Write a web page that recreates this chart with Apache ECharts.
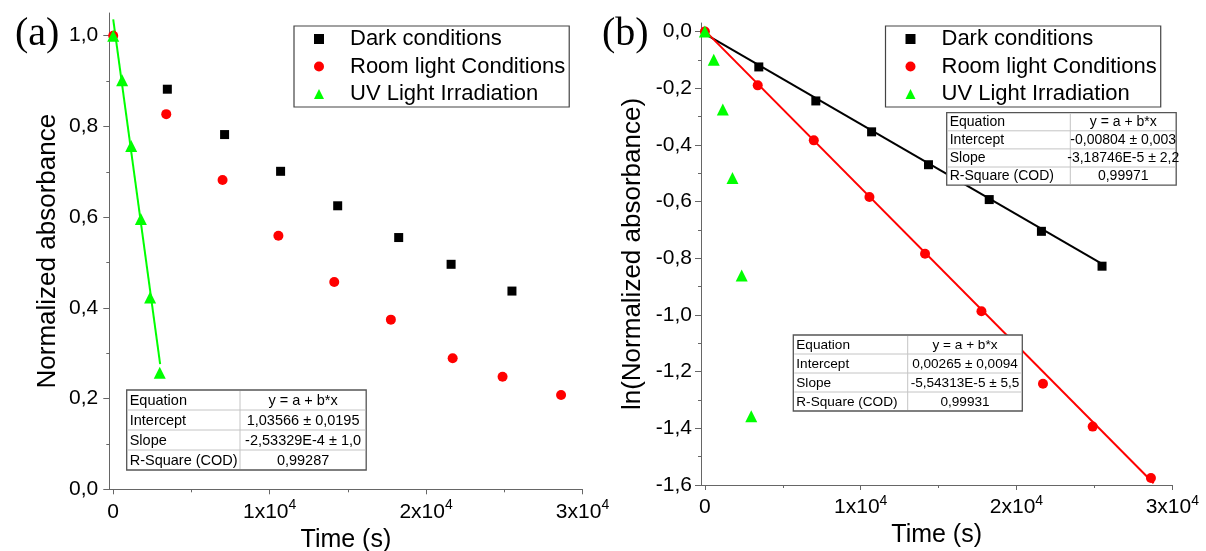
<!DOCTYPE html>
<html>
<head>
<meta charset="utf-8">
<script src="https://cdn.jsdelivr.net/npm/echarts@6/dist/echarts.min.js"></script>
<style>
html,body{margin:0;padding:0;background:#fff;}
#chart{width:1206px;height:551px;}
</style>
</head>
<body>
<div id="chart"></div>
<script>
// ---------- data ----------
const seriesNames = ['Dark conditions', 'Room light Conditions', 'UV Light Irradiation'];

// panel (a): normalized absorbance vs time (s)
const darkT = [3460, 7120, 10700, 14350, 18250, 21600, 25490];
const darkNorm = [0.882, 0.782, 0.701, 0.625, 0.555, 0.496, 0.437];
const roomT = [0, 3390, 6990, 10560, 14130, 17750, 21700, 24890, 28630];
const roomNorm = [1.0, 0.827, 0.682, 0.559, 0.457, 0.374, 0.289, 0.248, 0.208];
const uvT = [0, 570, 1150, 1770, 2360, 2975];
const uvNorm = [1.0, 0.902, 0.757, 0.596, 0.423, 0.257];
const fitUvT = [0, 3000];
const fitUvY = [1.036, 0.276];

// panel (b): ln(normalized absorbance) vs time (s)
const darkLn = [-0.125, -0.245, -0.354, -0.470, -0.593, -0.705, -0.828];
const roomLn = [0.0, -0.190, -0.384, -0.584, -0.784, -0.987, -1.243, -1.394, -1.575];
const uvLn = [0.0, -0.100, -0.275, -0.517, -0.861, -1.357];
const fitDarkT = [0, 25490];
const fitDarkY = [-0.008, -0.820];
const fitRoomT = [0, 28800];
const fitRoomY = [0.003, -1.594];

// tick values
const xMajorTicks = [0, 10000, 20000, 30000];
const xMinorTicks = [5000, 15000, 25000];
const yMajorA = [0, 0.2, 0.4, 0.6, 0.8, 1.0];
const yMinorA = [0.1, 0.3, 0.5, 0.7, 0.9];
const yMajorB = [0, -0.2, -0.4, -0.6, -0.8, -1.0, -1.2, -1.4, -1.6];
const yMinorB = [-0.1, -0.3, -0.5, -0.7, -0.9, -1.1, -1.3, -1.5];

// fit tables
const tableA = [['Equation', 'y = a + b*x'], ['Intercept', '1,03566 ± 0,0195'], ['Slope', '-2,53329E-4 ± 1,0'], ['R-Square (COD)', '0,99287']];
const tableDark = [['Equation', 'y = a + b*x'], ['Intercept', '-0,00804 ± 0,003'], ['Slope', '-3,18746E-5 ± 2,2'], ['R-Square (COD)', '0,99971']];
const tableRoom = [['Equation', 'y = a + b*x'], ['Intercept', '0,00265 ± 0,0094'], ['Slope', '-5,54313E-5 ± 5,5'], ['R-Square (COD)', '0,99931']];

// ---------- helpers ----------
const FONT = '"Liberation Sans", Arial, sans-serif';
const zip = (a, b) => a.map((v, i) => [v, b[i]]);
const AXIS_COLOR = '#666';

function xAxisMajor(gridIndex) {
  return {
    type: 'value', gridIndex, min: -250, max: 30000, position: 'bottom',
    name: 'Time (s)', nameLocation: 'middle', nameGap: 36,
    nameTextStyle: { fontSize: 25, fontFamily: FONT, color: '#000' },
    axisLine: { show: true, onZero: false, lineStyle: { color: AXIS_COLOR, width: 1 } },
    axisTick: { show: true, inside: false, length: 5, customValues: xMajorTicks, lineStyle: { color: AXIS_COLOR } },
    splitLine: { show: false },
    axisLabel: {
      customValues: xMajorTicks, margin: 9,
      formatter: v => v === 0 ? '{b|0}' : '{b|' + Math.round(v / 10000) + 'x10}{s|4}',
      rich: {
        b: { fontSize: 21, fontFamily: FONT, color: '#000', lineHeight: 24, verticalAlign: 'bottom' },
        s: { fontSize: 14, fontFamily: FONT, color: '#000', lineHeight: 14, verticalAlign: 'top' }
      }
    }
  };
}
function xAxisMinor(gridIndex) {
  return {
    type: 'value', gridIndex, min: -250, max: 30000, position: 'bottom', offset: 0,
    axisLine: { show: false, onZero: false },
    axisTick: { show: true, length: 3, customValues: xMinorTicks, lineStyle: { color: AXIS_COLOR } },
    axisLabel: { show: false }, splitLine: { show: false }
  };
}
function fmtY(v) { return (Math.abs(v) < 1e-9 ? 0 : v).toFixed(1).replace('.', ','); }
function yAxisMajor(gridIndex, min, max, ticks, name, gap, margin) {
  return {
    type: 'value', gridIndex, min, max, position: 'left',
    name, nameLocation: 'middle', nameGap: gap,
    nameTextStyle: { fontSize: 26, fontFamily: FONT, color: '#000' },
    axisLine: { show: true, onZero: false, lineStyle: { color: AXIS_COLOR, width: 1 } },
    axisTick: { show: true, length: 6, customValues: ticks, lineStyle: { color: AXIS_COLOR } },
    splitLine: { show: false },
    axisLabel: { customValues: ticks, margin, formatter: fmtY, fontSize: 21, fontFamily: FONT, color: '#000' }
  };
}
function yAxisMinor(gridIndex, min, max, ticks) {
  return {
    type: 'value', gridIndex, min, max, position: 'left', offset: 0,
    axisLine: { show: false, onZero: false },
    axisTick: { show: true, length: 3, customValues: ticks, lineStyle: { color: AXIS_COLOR } },
    axisLabel: { show: false }, splitLine: { show: false }
  };
}
function scatter(name, data, xi, yi, symbol, size, color) {
  return { type: 'scatter', name, data, xAxisIndex: xi, yAxisIndex: yi, symbol, symbolSize: size,
    itemStyle: { color, opacity: 1 }, z: 5, silent: true, animation: false };
}
function fitLine(data, xi, yi, color) {
  return { type: 'line', data, xAxisIndex: xi, yAxisIndex: yi, showSymbol: false, symbol: 'none',
    lineStyle: { color, width: 2 }, z: 3, silent: true, animation: false };
}
function legend(left) {
  return {
    left, top: 26, orient: 'vertical', selectedMode: false,
    itemWidth: 10, itemHeight: 10, itemGap: 3.5, padding: [1, 4, 1, 20],
    borderColor: '#444', borderWidth: 1.2, backgroundColor: '#fff',
    textStyle: { fontSize: 22, lineHeight: 24, fontFamily: FONT, color: '#000', padding: [0, 0, 0, 21] },
    data: [
      { name: seriesNames[0], icon: 'rect', itemStyle: { color: '#000' } },
      { name: seriesNames[1], icon: 'circle', itemStyle: { color: '#ff0000' } },
      { name: seriesNames[2], icon: 'triangle', itemStyle: { color: '#00ff00' } }
    ]
  };
}
function table(x, y, w, c1, rh, rows, fs) {
  const h = rh * rows.length;
  const ch = [];
  ch.push({ type: 'rect', z: 100, shape: { x: 0, y: 0, width: w, height: h }, style: { fill: '#fff', stroke: '#555', lineWidth: 1.3 } });
  for (let i = 1; i < rows.length; i++) {
    ch.push({ type: 'line', z: 101, shape: { x1: 1, y1: i * rh, x2: w - 1, y2: i * rh }, style: { stroke: '#c4c4c4', lineWidth: 1 } });
  }
  ch.push({ type: 'line', z: 101, shape: { x1: c1, y1: 1, x2: c1, y2: h - 1 }, style: { stroke: '#c4c4c4', lineWidth: 1 } });
  rows.forEach((r, i) => {
    ch.push({ type: 'text', z: 102, x: 3, y: i * rh + rh / 2 + 0.5,
      style: { text: r[0], fontSize: fs, fontFamily: FONT, fill: '#000', align: 'left', verticalAlign: 'middle', textAlign: 'left', textVerticalAlign: 'middle' } });
    ch.push({ type: 'text', z: 102, x: c1 + (w - c1) / 2, y: i * rh + rh / 2 + 0.5,
      style: { text: r[1], fontSize: fs, fontFamily: FONT, fill: '#000', align: 'center', verticalAlign: 'middle', textAlign: 'center', textVerticalAlign: 'middle' } });
  });
  return { type: 'group', x, y, z: 100, children: ch };
}

const chart = echarts.init(document.getElementById('chart'), null, { renderer: 'canvas' });
chart.setOption({
  backgroundColor: '#fff',
  animation: false,
  grid: [
    { left: 109.3, top: 13, width: 473.2, height: 476.3, containLabel: false, outerBoundsMode: 'none' },
    { left: 701, top: 23, width: 471.3, height: 462, containLabel: false, outerBoundsMode: 'none' }
  ],
  xAxis: [xAxisMajor(0), xAxisMinor(0), xAxisMajor(1), xAxisMinor(1)],
  yAxis: [
    yAxisMajor(0, 0, 1.05, yMajorA, 'Normalized absorbance', 48, 11),
    yAxisMinor(0, 0, 1.05, yMinorA),
    yAxisMajor(1, -1.6, 0.03, yMajorB, 'ln(Normalized absorbance)', 55, 9),
    yAxisMinor(1, -1.6, 0.03, yMinorB)
  ],
  legend: [legend(294), legend(885.5)],
  series: [
    fitLine(zip(fitUvT, fitUvY), 0, 0, '#00ff00'),
    scatter(seriesNames[0], zip(darkT, darkNorm), 0, 0, 'rect', 9, '#000000'),
    scatter(seriesNames[1], zip(roomT, roomNorm), 0, 0, 'circle', 10, '#ff0000'),
    scatter(seriesNames[2], zip(uvT, uvNorm), 0, 0, 'triangle', 12, '#00ff00'),

    fitLine(zip(fitDarkT, fitDarkY), 2, 2, '#000000'),
    fitLine(zip(fitRoomT, fitRoomY), 2, 2, '#ff0000'),
    scatter(seriesNames[0], zip(darkT, darkLn), 2, 2, 'rect', 9, '#000000'),
    scatter(seriesNames[1], zip(roomT, roomLn), 2, 2, 'circle', 10, '#ff0000'),
    scatter(seriesNames[2], zip(uvT, uvLn), 2, 2, 'triangle', 12, '#00ff00')
  ],
  graphic: [
    { type: 'text', x: 15, y: 34, z: 100, style: { text: '(a)', fontSize: 40, fontFamily: '"Liberation Serif", "Times New Roman", serif', fill: '#000', verticalAlign: 'middle', textVerticalAlign: 'middle' } },
    { type: 'text', x: 602, y: 34, z: 100, style: { text: '(b)', fontSize: 40, fontFamily: '"Liberation Serif", "Times New Roman", serif', fill: '#000', verticalAlign: 'middle', textVerticalAlign: 'middle' } },
    table(126.7, 390, 239.5, 113.3, 20, tableA, 14.5),
    table(946.7, 112.7, 229.5, 123.6, 18.1, tableDark, 14),
    table(793.3, 335, 229, 114.4, 19, tableRoom, 13.6)
  ]
});
</script>
</body>
</html>
